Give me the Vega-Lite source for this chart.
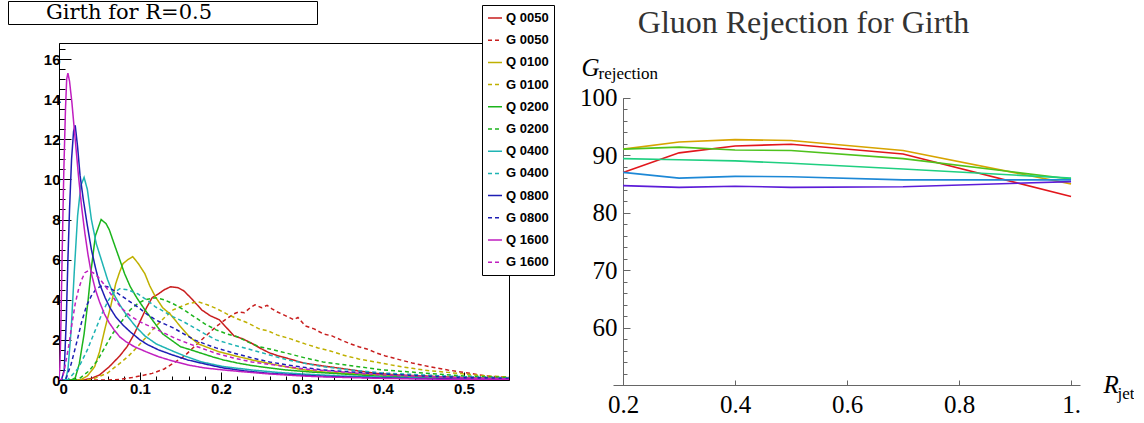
{
"$schema": "https://vega.github.io/schema/vega-lite/v6.json",
"background": "white",
"padding": {"left": 7, "top": 0, "right": 0, "bottom": 0},
"config": {"view": {"stroke": null}, "font": "Liberation Sans"},
"spacing": 24,
"resolve": {"scale": {"color": "independent", "strokeDash": "independent", "opacity": "independent", "x": "independent", "y": "independent"}, "legend": {"color": "independent", "strokeDash": "independent", "opacity": "independent"}},
"datasets": {
"girth": [
{"s":"Q 0050","k":"Q","x":0,"y":0},{"s":"Q 0050","k":"Q","x":0.03,"y":0},{"s":"Q 0050","k":"Q","x":0.04,"y":0.08},{"s":"Q 0050","k":"Q","x":0.05,"y":0.25},{"s":"Q 0050","k":"Q","x":0.062,"y":0.66},{"s":"Q 0050","k":"Q","x":0.075,"y":1.2},{"s":"Q 0050","k":"Q","x":0.084,"y":1.66},{"s":"Q 0050","k":"Q","x":0.093,"y":2.3},{"s":"Q 0050","k":"Q","x":0.101,"y":3.0},{"s":"Q 0050","k":"Q","x":0.108,"y":3.6},{"s":"Q 0050","k":"Q","x":0.115,"y":4.1},{"s":"Q 0050","k":"Q","x":0.123,"y":4.3},{"s":"Q 0050","k":"Q","x":0.13,"y":4.5},{"s":"Q 0050","k":"Q","x":0.138,"y":4.65},{"s":"Q 0050","k":"Q","x":0.147,"y":4.6},{"s":"Q 0050","k":"Q","x":0.154,"y":4.45},{"s":"Q 0050","k":"Q","x":0.165,"y":4.0},{"s":"Q 0050","k":"Q","x":0.176,"y":3.5},{"s":"Q 0050","k":"Q","x":0.187,"y":3.2},{"s":"Q 0050","k":"Q","x":0.198,"y":3.0},{"s":"Q 0050","k":"Q","x":0.207,"y":2.6},{"s":"Q 0050","k":"Q","x":0.216,"y":2.2},{"s":"Q 0050","k":"Q","x":0.227,"y":2.05},{"s":"Q 0050","k":"Q","x":0.238,"y":1.83},{"s":"Q 0050","k":"Q","x":0.25,"y":1.55},{"s":"Q 0050","k":"Q","x":0.26,"y":1.35},{"s":"Q 0050","k":"Q","x":0.271,"y":1.2},{"s":"Q 0050","k":"Q","x":0.282,"y":1.08},{"s":"Q 0050","k":"Q","x":0.293,"y":0.95},{"s":"Q 0050","k":"Q","x":0.304,"y":0.83},{"s":"Q 0050","k":"Q","x":0.326,"y":0.7},{"s":"Q 0050","k":"Q","x":0.348,"y":0.58},{"s":"Q 0050","k":"Q","x":0.37,"y":0.45},{"s":"Q 0050","k":"Q","x":0.392,"y":0.33},{"s":"Q 0050","k":"Q","x":0.42,"y":0.25},{"s":"Q 0050","k":"Q","x":0.45,"y":0.2},{"s":"Q 0050","k":"Q","x":0.5,"y":0.12},{"s":"Q 0050","k":"Q","x":0.556,"y":0.07},
{"s":"G 0050","k":"G","x":0,"y":0},{"s":"G 0050","k":"G","x":0.06,"y":0},{"s":"G 0050","k":"G","x":0.075,"y":0.03},{"s":"G 0050","k":"G","x":0.09,"y":0.12},{"s":"G 0050","k":"G","x":0.1,"y":0.2},{"s":"G 0050","k":"G","x":0.115,"y":0.33},{"s":"G 0050","k":"G","x":0.13,"y":0.55},{"s":"G 0050","k":"G","x":0.141,"y":0.83},{"s":"G 0050","k":"G","x":0.155,"y":1.2},{"s":"G 0050","k":"G","x":0.167,"y":1.66},{"s":"G 0050","k":"G","x":0.18,"y":2.15},{"s":"G 0050","k":"G","x":0.194,"y":2.66},{"s":"G 0050","k":"G","x":0.205,"y":3.0},{"s":"G 0050","k":"G","x":0.216,"y":3.3},{"s":"G 0050","k":"G","x":0.222,"y":3.4},{"s":"G 0050","k":"G","x":0.229,"y":3.35},{"s":"G 0050","k":"G","x":0.236,"y":3.6},{"s":"G 0050","k":"G","x":0.242,"y":3.75},{"s":"G 0050","k":"G","x":0.25,"y":3.6},{"s":"G 0050","k":"G","x":0.257,"y":3.72},{"s":"G 0050","k":"G","x":0.263,"y":3.55},{"s":"G 0050","k":"G","x":0.269,"y":3.4},{"s":"G 0050","k":"G","x":0.28,"y":3.2},{"s":"G 0050","k":"G","x":0.29,"y":3.0},{"s":"G 0050","k":"G","x":0.295,"y":3.12},{"s":"G 0050","k":"G","x":0.304,"y":2.7},{"s":"G 0050","k":"G","x":0.315,"y":2.55},{"s":"G 0050","k":"G","x":0.326,"y":2.3},{"s":"G 0050","k":"G","x":0.337,"y":2.2},{"s":"G 0050","k":"G","x":0.348,"y":2.0},{"s":"G 0050","k":"G","x":0.36,"y":1.8},{"s":"G 0050","k":"G","x":0.37,"y":1.66},{"s":"G 0050","k":"G","x":0.38,"y":1.55},{"s":"G 0050","k":"G","x":0.392,"y":1.35},{"s":"G 0050","k":"G","x":0.403,"y":1.2},{"s":"G 0050","k":"G","x":0.414,"y":1.08},{"s":"G 0050","k":"G","x":0.436,"y":0.85},{"s":"G 0050","k":"G","x":0.458,"y":0.66},{"s":"G 0050","k":"G","x":0.48,"y":0.5},{"s":"G 0050","k":"G","x":0.5,"y":0.38},{"s":"G 0050","k":"G","x":0.524,"y":0.22},{"s":"G 0050","k":"G","x":0.54,"y":0.16},{"s":"G 0050","k":"G","x":0.556,"y":0.12},
{"s":"Q 0100","k":"Q","x":0,"y":0},{"s":"Q 0100","k":"Q","x":0.026,"y":0},{"s":"Q 0100","k":"Q","x":0.035,"y":0.2},{"s":"Q 0100","k":"Q","x":0.044,"y":0.66},{"s":"Q 0100","k":"Q","x":0.05,"y":1.4},{"s":"Q 0100","k":"Q","x":0.057,"y":2.6},{"s":"Q 0100","k":"Q","x":0.064,"y":3.7},{"s":"Q 0100","k":"Q","x":0.07,"y":4.8},{"s":"Q 0100","k":"Q","x":0.075,"y":5.4},{"s":"Q 0100","k":"Q","x":0.079,"y":5.8},{"s":"Q 0100","k":"Q","x":0.085,"y":6.0},{"s":"Q 0100","k":"Q","x":0.091,"y":6.15},{"s":"Q 0100","k":"Q","x":0.098,"y":5.8},{"s":"Q 0100","k":"Q","x":0.106,"y":5.3},{"s":"Q 0100","k":"Q","x":0.112,"y":4.7},{"s":"Q 0100","k":"Q","x":0.119,"y":4.15},{"s":"Q 0100","k":"Q","x":0.128,"y":3.6},{"s":"Q 0100","k":"Q","x":0.137,"y":3.3},{"s":"Q 0100","k":"Q","x":0.15,"y":2.66},{"s":"Q 0100","k":"Q","x":0.16,"y":2.2},{"s":"Q 0100","k":"Q","x":0.172,"y":1.8},{"s":"Q 0100","k":"Q","x":0.185,"y":1.6},{"s":"Q 0100","k":"Q","x":0.198,"y":1.4},{"s":"Q 0100","k":"Q","x":0.218,"y":1.2},{"s":"Q 0100","k":"Q","x":0.238,"y":1.0},{"s":"Q 0100","k":"Q","x":0.26,"y":0.82},{"s":"Q 0100","k":"Q","x":0.28,"y":0.66},{"s":"Q 0100","k":"Q","x":0.3,"y":0.52},{"s":"Q 0100","k":"Q","x":0.326,"y":0.4},{"s":"Q 0100","k":"Q","x":0.36,"y":0.32},{"s":"Q 0100","k":"Q","x":0.4,"y":0.25},{"s":"Q 0100","k":"Q","x":0.45,"y":0.18},{"s":"Q 0100","k":"Q","x":0.5,"y":0.12},{"s":"Q 0100","k":"Q","x":0.556,"y":0.08},
{"s":"G 0100","k":"G","x":0,"y":0},{"s":"G 0100","k":"G","x":0.035,"y":0},{"s":"G 0100","k":"G","x":0.044,"y":0.08},{"s":"G 0100","k":"G","x":0.06,"y":0.35},{"s":"G 0100","k":"G","x":0.075,"y":0.83},{"s":"G 0100","k":"G","x":0.086,"y":1.2},{"s":"G 0100","k":"G","x":0.097,"y":1.66},{"s":"G 0100","k":"G","x":0.108,"y":2.15},{"s":"G 0100","k":"G","x":0.119,"y":2.66},{"s":"G 0100","k":"G","x":0.13,"y":3.1},{"s":"G 0100","k":"G","x":0.141,"y":3.5},{"s":"G 0100","k":"G","x":0.15,"y":3.65},{"s":"G 0100","k":"G","x":0.159,"y":3.8},{"s":"G 0100","k":"G","x":0.172,"y":3.9},{"s":"G 0100","k":"G","x":0.183,"y":3.75},{"s":"G 0100","k":"G","x":0.194,"y":3.57},{"s":"G 0100","k":"G","x":0.207,"y":3.3},{"s":"G 0100","k":"G","x":0.22,"y":3.05},{"s":"G 0100","k":"G","x":0.233,"y":2.85},{"s":"G 0100","k":"G","x":0.247,"y":2.55},{"s":"G 0100","k":"G","x":0.258,"y":2.45},{"s":"G 0100","k":"G","x":0.269,"y":2.25},{"s":"G 0100","k":"G","x":0.286,"y":2.05},{"s":"G 0100","k":"G","x":0.304,"y":1.8},{"s":"G 0100","k":"G","x":0.32,"y":1.6},{"s":"G 0100","k":"G","x":0.335,"y":1.45},{"s":"G 0100","k":"G","x":0.35,"y":1.25},{"s":"G 0100","k":"G","x":0.37,"y":1.05},{"s":"G 0100","k":"G","x":0.39,"y":0.9},{"s":"G 0100","k":"G","x":0.414,"y":0.72},{"s":"G 0100","k":"G","x":0.436,"y":0.58},{"s":"G 0100","k":"G","x":0.458,"y":0.46},{"s":"G 0100","k":"G","x":0.48,"y":0.38},{"s":"G 0100","k":"G","x":0.5,"y":0.3},{"s":"G 0100","k":"G","x":0.53,"y":0.2},{"s":"G 0100","k":"G","x":0.556,"y":0.15},
{"s":"Q 0200","k":"Q","x":0,"y":0},{"s":"Q 0200","k":"Q","x":0.015,"y":0},{"s":"Q 0200","k":"Q","x":0.02,"y":0.1},{"s":"Q 0200","k":"Q","x":0.025,"y":0.8},{"s":"Q 0200","k":"Q","x":0.031,"y":2.3},{"s":"Q 0200","k":"Q","x":0.036,"y":4.0},{"s":"Q 0200","k":"Q","x":0.04,"y":5.6},{"s":"Q 0200","k":"Q","x":0.045,"y":7.2},{"s":"Q 0200","k":"Q","x":0.052,"y":8.0},{"s":"Q 0200","k":"Q","x":0.058,"y":7.8},{"s":"Q 0200","k":"Q","x":0.062,"y":7.5},{"s":"Q 0200","k":"Q","x":0.068,"y":6.8},{"s":"Q 0200","k":"Q","x":0.075,"y":6.0},{"s":"Q 0200","k":"Q","x":0.081,"y":5.3},{"s":"Q 0200","k":"Q","x":0.088,"y":4.65},{"s":"Q 0200","k":"Q","x":0.096,"y":4.1},{"s":"Q 0200","k":"Q","x":0.106,"y":3.5},{"s":"Q 0200","k":"Q","x":0.117,"y":2.9},{"s":"Q 0200","k":"Q","x":0.128,"y":2.3},{"s":"Q 0200","k":"Q","x":0.14,"y":1.95},{"s":"Q 0200","k":"Q","x":0.15,"y":1.66},{"s":"Q 0200","k":"Q","x":0.163,"y":1.5},{"s":"Q 0200","k":"Q","x":0.176,"y":1.33},{"s":"Q 0200","k":"Q","x":0.19,"y":1.15},{"s":"Q 0200","k":"Q","x":0.203,"y":1.0},{"s":"Q 0200","k":"Q","x":0.22,"y":0.85},{"s":"Q 0200","k":"Q","x":0.238,"y":0.72},{"s":"Q 0200","k":"Q","x":0.26,"y":0.6},{"s":"Q 0200","k":"Q","x":0.28,"y":0.5},{"s":"Q 0200","k":"Q","x":0.31,"y":0.4},{"s":"Q 0200","k":"Q","x":0.35,"y":0.3},{"s":"Q 0200","k":"Q","x":0.4,"y":0.18},{"s":"Q 0200","k":"Q","x":0.45,"y":0.12},{"s":"Q 0200","k":"Q","x":0.5,"y":0.08},{"s":"Q 0200","k":"Q","x":0.556,"y":0.05},
{"s":"G 0200","k":"G","x":0,"y":0},{"s":"G 0200","k":"G","x":0.02,"y":0},{"s":"G 0200","k":"G","x":0.026,"y":0.1},{"s":"G 0200","k":"G","x":0.037,"y":0.45},{"s":"G 0200","k":"G","x":0.048,"y":1.0},{"s":"G 0200","k":"G","x":0.057,"y":1.66},{"s":"G 0200","k":"G","x":0.066,"y":2.3},{"s":"G 0200","k":"G","x":0.077,"y":2.9},{"s":"G 0200","k":"G","x":0.088,"y":3.5},{"s":"G 0200","k":"G","x":0.097,"y":3.8},{"s":"G 0200","k":"G","x":0.106,"y":4.0},{"s":"G 0200","k":"G","x":0.119,"y":4.1},{"s":"G 0200","k":"G","x":0.13,"y":4.0},{"s":"G 0200","k":"G","x":0.141,"y":3.8},{"s":"G 0200","k":"G","x":0.154,"y":3.5},{"s":"G 0200","k":"G","x":0.167,"y":3.15},{"s":"G 0200","k":"G","x":0.18,"y":2.8},{"s":"G 0200","k":"G","x":0.194,"y":2.5},{"s":"G 0200","k":"G","x":0.207,"y":2.3},{"s":"G 0200","k":"G","x":0.22,"y":2.16},{"s":"G 0200","k":"G","x":0.233,"y":1.9},{"s":"G 0200","k":"G","x":0.247,"y":1.66},{"s":"G 0200","k":"G","x":0.265,"y":1.5},{"s":"G 0200","k":"G","x":0.282,"y":1.33},{"s":"G 0200","k":"G","x":0.304,"y":1.1},{"s":"G 0200","k":"G","x":0.326,"y":0.9},{"s":"G 0200","k":"G","x":0.348,"y":0.78},{"s":"G 0200","k":"G","x":0.37,"y":0.66},{"s":"G 0200","k":"G","x":0.4,"y":0.5},{"s":"G 0200","k":"G","x":0.45,"y":0.35},{"s":"G 0200","k":"G","x":0.5,"y":0.2},{"s":"G 0200","k":"G","x":0.556,"y":0.12},
{"s":"Q 0400","k":"Q","x":0,"y":0},{"s":"Q 0400","k":"Q","x":0.008,"y":0},{"s":"Q 0400","k":"Q","x":0.011,"y":0.5},{"s":"Q 0400","k":"Q","x":0.015,"y":2.5},{"s":"Q 0400","k":"Q","x":0.019,"y":5.5},{"s":"Q 0400","k":"Q","x":0.023,"y":8.2},{"s":"Q 0400","k":"Q","x":0.027,"y":9.7},{"s":"Q 0400","k":"Q","x":0.031,"y":10.1},{"s":"Q 0400","k":"Q","x":0.035,"y":9.5},{"s":"Q 0400","k":"Q","x":0.04,"y":8.0},{"s":"Q 0400","k":"Q","x":0.046,"y":6.8},{"s":"Q 0400","k":"Q","x":0.053,"y":5.9},{"s":"Q 0400","k":"Q","x":0.06,"y":5.0},{"s":"Q 0400","k":"Q","x":0.066,"y":4.4},{"s":"Q 0400","k":"Q","x":0.075,"y":3.75},{"s":"Q 0400","k":"Q","x":0.084,"y":3.2},{"s":"Q 0400","k":"Q","x":0.095,"y":2.65},{"s":"Q 0400","k":"Q","x":0.106,"y":2.2},{"s":"Q 0400","k":"Q","x":0.12,"y":1.8},{"s":"Q 0400","k":"Q","x":0.137,"y":1.5},{"s":"Q 0400","k":"Q","x":0.155,"y":1.2},{"s":"Q 0400","k":"Q","x":0.176,"y":0.9},{"s":"Q 0400","k":"Q","x":0.203,"y":0.67},{"s":"Q 0400","k":"Q","x":0.238,"y":0.5},{"s":"Q 0400","k":"Q","x":0.27,"y":0.38},{"s":"Q 0400","k":"Q","x":0.3,"y":0.3},{"s":"Q 0400","k":"Q","x":0.35,"y":0.2},{"s":"Q 0400","k":"Q","x":0.4,"y":0.14},{"s":"Q 0400","k":"Q","x":0.45,"y":0.1},{"s":"Q 0400","k":"Q","x":0.5,"y":0.06},{"s":"Q 0400","k":"Q","x":0.556,"y":0.04},
{"s":"G 0400","k":"G","x":0,"y":0},{"s":"G 0400","k":"G","x":0.01,"y":0},{"s":"G 0400","k":"G","x":0.013,"y":0.1},{"s":"G 0400","k":"G","x":0.024,"y":0.6},{"s":"G 0400","k":"G","x":0.035,"y":1.5},{"s":"G 0400","k":"G","x":0.044,"y":2.4},{"s":"G 0400","k":"G","x":0.053,"y":3.3},{"s":"G 0400","k":"G","x":0.06,"y":3.9},{"s":"G 0400","k":"G","x":0.066,"y":4.3},{"s":"G 0400","k":"G","x":0.075,"y":4.55},{"s":"G 0400","k":"G","x":0.085,"y":4.5},{"s":"G 0400","k":"G","x":0.097,"y":4.3},{"s":"G 0400","k":"G","x":0.108,"y":4.0},{"s":"G 0400","k":"G","x":0.119,"y":3.65},{"s":"G 0400","k":"G","x":0.13,"y":3.4},{"s":"G 0400","k":"G","x":0.141,"y":3.15},{"s":"G 0400","k":"G","x":0.154,"y":2.9},{"s":"G 0400","k":"G","x":0.167,"y":2.6},{"s":"G 0400","k":"G","x":0.18,"y":2.3},{"s":"G 0400","k":"G","x":0.194,"y":2.0},{"s":"G 0400","k":"G","x":0.215,"y":1.75},{"s":"G 0400","k":"G","x":0.238,"y":1.5},{"s":"G 0400","k":"G","x":0.26,"y":1.25},{"s":"G 0400","k":"G","x":0.282,"y":1.0},{"s":"G 0400","k":"G","x":0.304,"y":0.83},{"s":"G 0400","k":"G","x":0.326,"y":0.66},{"s":"G 0400","k":"G","x":0.36,"y":0.5},{"s":"G 0400","k":"G","x":0.4,"y":0.35},{"s":"G 0400","k":"G","x":0.45,"y":0.25},{"s":"G 0400","k":"G","x":0.5,"y":0.16},{"s":"G 0400","k":"G","x":0.556,"y":0.1},
{"s":"Q 0800","k":"Q","x":0,"y":0},{"s":"Q 0800","k":"Q","x":0.003,"y":0},{"s":"Q 0800","k":"Q","x":0.0065,"y":0.5},{"s":"Q 0800","k":"Q","x":0.009,"y":3},{"s":"Q 0800","k":"Q","x":0.011,"y":6},{"s":"Q 0800","k":"Q","x":0.013,"y":8.5},{"s":"Q 0800","k":"Q","x":0.0155,"y":11},{"s":"Q 0800","k":"Q","x":0.018,"y":12.4},{"s":"Q 0800","k":"Q","x":0.02,"y":12.7},{"s":"Q 0800","k":"Q","x":0.023,"y":11.6},{"s":"Q 0800","k":"Q","x":0.026,"y":10.2},{"s":"Q 0800","k":"Q","x":0.03,"y":9.0},{"s":"Q 0800","k":"Q","x":0.035,"y":7.7},{"s":"Q 0800","k":"Q","x":0.04,"y":6.5},{"s":"Q 0800","k":"Q","x":0.045,"y":5.6},{"s":"Q 0800","k":"Q","x":0.05,"y":4.8},{"s":"Q 0800","k":"Q","x":0.057,"y":4.1},{"s":"Q 0800","k":"Q","x":0.063,"y":3.6},{"s":"Q 0800","k":"Q","x":0.07,"y":3.15},{"s":"Q 0800","k":"Q","x":0.08,"y":2.7},{"s":"Q 0800","k":"Q","x":0.088,"y":2.4},{"s":"Q 0800","k":"Q","x":0.1,"y":2.0},{"s":"Q 0800","k":"Q","x":0.11,"y":1.75},{"s":"Q 0800","k":"Q","x":0.123,"y":1.5},{"s":"Q 0800","k":"Q","x":0.14,"y":1.25},{"s":"Q 0800","k":"Q","x":0.159,"y":1.0},{"s":"Q 0800","k":"Q","x":0.18,"y":0.8},{"s":"Q 0800","k":"Q","x":0.203,"y":0.6},{"s":"Q 0800","k":"Q","x":0.23,"y":0.45},{"s":"Q 0800","k":"Q","x":0.26,"y":0.33},{"s":"Q 0800","k":"Q","x":0.3,"y":0.24},{"s":"Q 0800","k":"Q","x":0.33,"y":0.18},{"s":"Q 0800","k":"Q","x":0.4,"y":0.1},{"s":"Q 0800","k":"Q","x":0.45,"y":0.07},{"s":"Q 0800","k":"Q","x":0.5,"y":0.05},{"s":"Q 0800","k":"Q","x":0.556,"y":0.03},
{"s":"G 0800","k":"G","x":0,"y":0},{"s":"G 0800","k":"G","x":0.006,"y":0},{"s":"G 0800","k":"G","x":0.009,"y":0.1},{"s":"G 0800","k":"G","x":0.015,"y":0.8},{"s":"G 0800","k":"G","x":0.022,"y":1.9},{"s":"G 0800","k":"G","x":0.028,"y":2.9},{"s":"G 0800","k":"G","x":0.034,"y":3.7},{"s":"G 0800","k":"G","x":0.04,"y":4.2},{"s":"G 0800","k":"G","x":0.046,"y":4.55},{"s":"G 0800","k":"G","x":0.053,"y":4.7},{"s":"G 0800","k":"G","x":0.06,"y":4.65},{"s":"G 0800","k":"G","x":0.068,"y":4.45},{"s":"G 0800","k":"G","x":0.075,"y":4.25},{"s":"G 0800","k":"G","x":0.086,"y":3.95},{"s":"G 0800","k":"G","x":0.097,"y":3.65},{"s":"G 0800","k":"G","x":0.108,"y":3.3},{"s":"G 0800","k":"G","x":0.119,"y":3.0},{"s":"G 0800","k":"G","x":0.13,"y":2.8},{"s":"G 0800","k":"G","x":0.141,"y":2.6},{"s":"G 0800","k":"G","x":0.154,"y":2.3},{"s":"G 0800","k":"G","x":0.167,"y":2.0},{"s":"G 0800","k":"G","x":0.18,"y":1.8},{"s":"G 0800","k":"G","x":0.194,"y":1.6},{"s":"G 0800","k":"G","x":0.215,"y":1.35},{"s":"G 0800","k":"G","x":0.238,"y":1.1},{"s":"G 0800","k":"G","x":0.26,"y":0.9},{"s":"G 0800","k":"G","x":0.282,"y":0.75},{"s":"G 0800","k":"G","x":0.304,"y":0.62},{"s":"G 0800","k":"G","x":0.326,"y":0.5},{"s":"G 0800","k":"G","x":0.36,"y":0.4},{"s":"G 0800","k":"G","x":0.4,"y":0.3},{"s":"G 0800","k":"G","x":0.45,"y":0.2},{"s":"G 0800","k":"G","x":0.5,"y":0.13},{"s":"G 0800","k":"G","x":0.556,"y":0.08},
{"s":"Q 1600","k":"Q","x":0,"y":0},{"s":"Q 1600","k":"Q","x":0.001,"y":0.6},{"s":"Q 1600","k":"Q","x":0.002,"y":2.0},{"s":"Q 1600","k":"Q","x":0.004,"y":6.5},{"s":"Q 1600","k":"Q","x":0.006,"y":10.5},{"s":"Q 1600","k":"Q","x":0.008,"y":13.5},{"s":"Q 1600","k":"Q","x":0.0095,"y":15.0},{"s":"Q 1600","k":"Q","x":0.011,"y":15.3},{"s":"Q 1600","k":"Q","x":0.013,"y":14.9},{"s":"Q 1600","k":"Q","x":0.016,"y":13.8},{"s":"Q 1600","k":"Q","x":0.02,"y":12.0},{"s":"Q 1600","k":"Q","x":0.024,"y":10.2},{"s":"Q 1600","k":"Q","x":0.028,"y":8.6},{"s":"Q 1600","k":"Q","x":0.032,"y":7.3},{"s":"Q 1600","k":"Q","x":0.036,"y":6.2},{"s":"Q 1600","k":"Q","x":0.04,"y":5.3},{"s":"Q 1600","k":"Q","x":0.045,"y":4.5},{"s":"Q 1600","k":"Q","x":0.05,"y":3.9},{"s":"Q 1600","k":"Q","x":0.056,"y":3.3},{"s":"Q 1600","k":"Q","x":0.062,"y":2.85},{"s":"Q 1600","k":"Q","x":0.068,"y":2.5},{"s":"Q 1600","k":"Q","x":0.075,"y":2.15},{"s":"Q 1600","k":"Q","x":0.083,"y":1.9},{"s":"Q 1600","k":"Q","x":0.093,"y":1.66},{"s":"Q 1600","k":"Q","x":0.108,"y":1.4},{"s":"Q 1600","k":"Q","x":0.123,"y":1.16},{"s":"Q 1600","k":"Q","x":0.14,"y":0.95},{"s":"Q 1600","k":"Q","x":0.159,"y":0.75},{"s":"Q 1600","k":"Q","x":0.18,"y":0.6},{"s":"Q 1600","k":"Q","x":0.203,"y":0.5},{"s":"Q 1600","k":"Q","x":0.23,"y":0.4},{"s":"Q 1600","k":"Q","x":0.26,"y":0.3},{"s":"Q 1600","k":"Q","x":0.3,"y":0.2},{"s":"Q 1600","k":"Q","x":0.33,"y":0.15},{"s":"Q 1600","k":"Q","x":0.4,"y":0.08},{"s":"Q 1600","k":"Q","x":0.45,"y":0.05},{"s":"Q 1600","k":"Q","x":0.5,"y":0.03},{"s":"Q 1600","k":"Q","x":0.556,"y":0.02},
{"s":"G 1600","k":"G","x":0,"y":0},{"s":"G 1600","k":"G","x":0.002,"y":0},{"s":"G 1600","k":"G","x":0.0044,"y":0.1},{"s":"G 1600","k":"G","x":0.008,"y":0.8},{"s":"G 1600","k":"G","x":0.012,"y":1.7},{"s":"G 1600","k":"G","x":0.016,"y":2.8},{"s":"G 1600","k":"G","x":0.02,"y":3.8},{"s":"G 1600","k":"G","x":0.024,"y":4.5},{"s":"G 1600","k":"G","x":0.028,"y":5.0},{"s":"G 1600","k":"G","x":0.032,"y":5.35},{"s":"G 1600","k":"G","x":0.036,"y":5.45},{"s":"G 1600","k":"G","x":0.042,"y":5.35},{"s":"G 1600","k":"G","x":0.048,"y":5.15},{"s":"G 1600","k":"G","x":0.055,"y":4.8},{"s":"G 1600","k":"G","x":0.062,"y":4.4},{"s":"G 1600","k":"G","x":0.07,"y":3.95},{"s":"G 1600","k":"G","x":0.078,"y":3.55},{"s":"G 1600","k":"G","x":0.088,"y":3.2},{"s":"G 1600","k":"G","x":0.1,"y":2.9},{"s":"G 1600","k":"G","x":0.108,"y":2.75},{"s":"G 1600","k":"G","x":0.119,"y":2.55},{"s":"G 1600","k":"G","x":0.132,"y":2.3},{"s":"G 1600","k":"G","x":0.145,"y":2.05},{"s":"G 1600","k":"G","x":0.159,"y":1.83},{"s":"G 1600","k":"G","x":0.175,"y":1.6},{"s":"G 1600","k":"G","x":0.194,"y":1.33},{"s":"G 1600","k":"G","x":0.215,"y":1.1},{"s":"G 1600","k":"G","x":0.238,"y":0.9},{"s":"G 1600","k":"G","x":0.26,"y":0.78},{"s":"G 1600","k":"G","x":0.282,"y":0.66},{"s":"G 1600","k":"G","x":0.31,"y":0.52},{"s":"G 1600","k":"G","x":0.35,"y":0.4},{"s":"G 1600","k":"G","x":0.4,"y":0.25},{"s":"G 1600","k":"G","x":0.45,"y":0.17},{"s":"G 1600","k":"G","x":0.5,"y":0.1},{"s":"G 1600","k":"G","x":0.556,"y":0.06}
],
"rej": [
{"pt":"50","R":0.2,"G":87.0},{"pt":"50","R":0.3,"G":90.4},{"pt":"50","R":0.4,"G":91.6},{"pt":"50","R":0.5,"G":91.9},{"pt":"50","R":0.7,"G":90.2},{"pt":"50","R":1.0,"G":82.8},
{"pt":"100","R":0.2,"G":91.05},{"pt":"100","R":0.3,"G":92.3},{"pt":"100","R":0.4,"G":92.7},{"pt":"100","R":0.5,"G":92.55},{"pt":"100","R":0.7,"G":90.8},{"pt":"100","R":1.0,"G":85.0},
{"pt":"200","R":0.2,"G":91.05},{"pt":"200","R":0.3,"G":91.4},{"pt":"200","R":0.4,"G":90.9},{"pt":"200","R":0.5,"G":90.8},{"pt":"200","R":0.7,"G":89.4},{"pt":"200","R":1.0,"G":85.85},
{"pt":"400","R":0.2,"G":89.4},{"pt":"400","R":0.3,"G":89.2},{"pt":"400","R":0.4,"G":89.0},{"pt":"400","R":0.5,"G":88.6},{"pt":"400","R":0.7,"G":87.6},{"pt":"400","R":1.0,"G":86.0},
{"pt":"800","R":0.2,"G":87.0},{"pt":"800","R":0.3,"G":86.0},{"pt":"800","R":0.4,"G":86.3},{"pt":"800","R":0.5,"G":86.25},{"pt":"800","R":0.7,"G":85.7},{"pt":"800","R":1.0,"G":85.7},
{"pt":"1600","R":0.2,"G":84.7},{"pt":"1600","R":0.3,"G":84.4},{"pt":"1600","R":0.4,"G":84.6},{"pt":"1600","R":0.5,"G":84.4},{"pt":"1600","R":0.7,"G":84.5},{"pt":"1600","R":1.0,"G":85.4}
]
},
"hconcat": [
{
"width": 450, "height": 337,
"view": {"stroke": "black", "strokeWidth": 1},
"data": {"name": "girth"},
"mark": {"type": "line", "strokeWidth": 1.5, "clip": true},
"encoding": {
"x": {"field": "x", "type": "quantitative", "scale": {"domain": [0, 0.5556], "nice": false, "zero": false},
"axis": {"values": [0,0.02,0.04,0.06,0.08,0.1,0.12,0.14,0.16,0.18,0.2,0.22,0.24,0.26,0.28,0.3,0.32,0.34,0.36,0.38,0.4,0.42,0.44,0.46,0.48,0.5,0.52,0.54],
"tickSize": {"condition": {"test": "abs(datum.value*10-round(datum.value*10))<0.001", "value": -8}, "value": -4},
"labelExpr": "abs(datum.value*10-round(datum.value*10))<0.001 ? format(datum.value,'.1~f') : ''",
"labelFont": "Liberation Sans", "labelFontWeight": "bold", "labelFontSize": 15, "labelColor": "black", "labelPadding": 9, "labelOverlap": false,
"tickColor": "black", "domainColor": "black", "grid": false, "title": null}},
"y": {"field": "y", "type": "quantitative", "scale": {"domain": [0, 16.8], "nice": false, "zero": false},
"axis": {"values": [0,0.5,1,1.5,2,2.5,3,3.5,4,4.5,5,5.5,6,6.5,7,7.5,8,8.5,9,9.5,10,10.5,11,11.5,12,12.5,13,13.5,14,14.5,15,15.5,16,16.5],
"tickSize": {"condition": {"test": "datum.value % 2 === 0", "value": -12}, "value": -6},
"labelExpr": "datum.value % 2 === 0 ? format(datum.value,'d') : ''",
"labelFont": "Liberation Sans", "labelFontWeight": "bold", "labelFontSize": 15, "labelColor": "black", "labelPadding": 11, "labelOverlap": false,
"tickColor": "black", "domainColor": "black", "grid": false, "title": null}},
"color": {"field": "s", "type": "nominal",
"scale": {"domain": ["Q 0050","G 0050","Q 0100","G 0100","Q 0200","G 0200","Q 0400","G 0400","Q 0800","G 0800","Q 1600","G 1600"],
"range": ["#c81e1e","#c81e1e","#bfb000","#bfb000","#1cb41c","#1cb41c","#1fb4b4","#1fb4b4","#1e1eb4","#1e1eb4","#c01fc0","#c01fc0"]},
"legend": {"orient": "none", "legendX": 423, "legendY": -38, "title": null, "strokeColor": "black", "fillColor": "white", "padding": 5, "symbolType": "stroke", "symbolSize": 196, "symbolStrokeWidth": 1.5, "labelFont": "Liberation Sans", "labelFontWeight": "bold", "labelFontSize": 13, "labelColor": "black", "labelOffset": 3, "rowPadding": 7.2, "labelLimit": 200}},
"strokeDash": {"field": "s", "type": "nominal",
"scale": {"domain": ["Q 0050","G 0050","Q 0100","G 0100","Q 0200","G 0200","Q 0400","G 0400","Q 0800","G 0800","Q 1600","G 1600"],
"range": [[1,0],[4,3],[1,0],[4,3],[1,0],[4,3],[1,0],[4,3],[1,0],[4,3],[1,0],[4,3]]},
"legend": {"orient": "none", "legendX": 423, "legendY": -38, "title": null, "strokeColor": "black", "fillColor": "white", "padding": 5, "symbolType": "stroke", "symbolSize": 196, "symbolStrokeWidth": 1.5, "labelFont": "Liberation Sans", "labelFontWeight": "bold", "labelFontSize": 13, "labelColor": "black", "labelOffset": 3, "rowPadding": 7.2, "labelLimit": 200}},
"opacity": {"field": "k", "type": "nominal", "scale": {"domain": ["Q","G"], "range": [1,1]},
"legend": {"orient": "none", "legendX": -51, "legendY": -42, "values": ["Q","G"], "title": null, "direction": "horizontal",
"labelExpr": "datum.value == 'Q' ? 'Girth for R=0.5' : ''",
"labelFont": "DejaVu Serif", "labelFontSize": 21, "labelFontWeight": "normal", "labelColor": "black", "labelLimit": 400, "labelOffset": 16,
"strokeColor": "black", "fillColor": "white", "padding": 1, "symbolOpacity": 0, "symbolStrokeWidth": 0, "symbolSize": 1, "columnPadding": 66}}
}
},
{
"width": 467, "height": 342,
"title": {"text": "Gluon Rejection for Girth", "font": "Liberation Serif", "fontSize": 32, "fontWeight": "normal", "color": "#333333", "anchor": "middle", "frame": "group", "dx": -43, "offset": 3},
"layer": [
{
"data": {"name": "rej"},
"transform": [{"filter": {"field": "pt", "oneOf": ["50","100","200"]}}],
"mark": {"type": "line", "strokeWidth": 1.6},
"encoding": {
"x": {"field": "R", "type": "quantitative", "scale": {"domain": [0.182, 1.016], "nice": false, "zero": false},
"axis": {"orient": "bottom", "values": [0.2,0.4,0.6,0.8,1], "tickSize": -5, "labelExpr": "datum.value == 1 ? '1.' : format(datum.value,'.1f')",
"labelFont": "Liberation Serif", "labelFontSize": 25, "labelColor": "black", "labelPadding": 12, "labelOverlap": false,
"domainColor": "#666666", "tickColor": "#666666", "grid": false,
"title": "R", "titleFont": "Liberation Serif", "titleFontStyle": "italic", "titleFontWeight": "normal", "titleFontSize": 25, "titleColor": "black",
"titleAngle": 0, "titleAlign": "left", "titleBaseline": "alphabetic", "titleX": 490, "titleY": 7}},
"y": {"field": "G", "type": "quantitative", "scale": {"domain": [50, 100], "nice": false, "zero": false, "range": [342, 54.7]},
"axis": {"orient": "left", "offset": -10, "values": [52,54,56,58,60,62,64,66,68,70,72,74,76,78,80,82,84,86,88,90,92,94,96,98,100],
"tickSize": {"condition": {"test": "datum.value % 10 === 0", "value": -7}, "value": -4},
"labelExpr": "datum.value % 10 === 0 ? format(datum.value,'d') : ''",
"labelFont": "Liberation Serif", "labelFontSize": 25, "labelColor": "black", "labelPadding": 13, "labelOverlap": false,
"domainColor": "#666666", "tickColor": "#666666", "grid": false,
"title": "G", "titleFont": "Liberation Serif", "titleFontStyle": "italic", "titleFontWeight": "normal", "titleFontSize": 25, "titleColor": "black",
"titleAngle": 0, "titleAlign": "left", "titleBaseline": "alphabetic", "titleX": -42, "titleY": 32}},
"color": {"field": "pt", "type": "nominal", "scale": {"domain": ["50","100","200","400","800","1600"], "range": ["#e2161c","#d7a400","#4fc21c","#1fcf80","#1d88d6","#5c1cd8"]}, "legend": null}
}
},
{
"data": {"name": "rej"},
"transform": [{"filter": {"field": "pt", "oneOf": ["400","800","1600"]}}],
"mark": {"type": "line", "strokeWidth": 1.6},
"encoding": {
"x": {"field": "R", "type": "quantitative", "scale": {"domain": [0.182, 1.016], "nice": false, "zero": false},
"axis": {"orient": "top", "domain": false, "ticks": false, "labels": false, "grid": false,
"title": "jet", "titleFont": "Liberation Serif", "titleFontWeight": "normal", "titleFontSize": 17, "titleColor": "black",
"titleAngle": 0, "titleAlign": "left", "titleBaseline": "alphabetic", "titleX": 504, "titleY": 355}},
"y": {"field": "G", "type": "quantitative", "scale": {"domain": [50, 100], "nice": false, "zero": false, "range": [342, 54.7]},
"axis": {"orient": "right", "domain": false, "ticks": false, "labels": false, "grid": false,
"title": "rejection", "titleFont": "Liberation Serif", "titleFontWeight": "normal", "titleFontSize": 17, "titleColor": "black",
"titleAngle": 0, "titleAlign": "left", "titleBaseline": "alphabetic", "titleX": -482, "titleY": 35}},
"color": {"field": "pt", "type": "nominal", "scale": {"domain": ["50","100","200","400","800","1600"], "range": ["#e2161c","#d7a400","#4fc21c","#1fcf80","#1d88d6","#5c1cd8"]}, "legend": null}
}
}
],
"resolve": {"axis": {"x": "independent", "y": "independent"}}
}
]
}
